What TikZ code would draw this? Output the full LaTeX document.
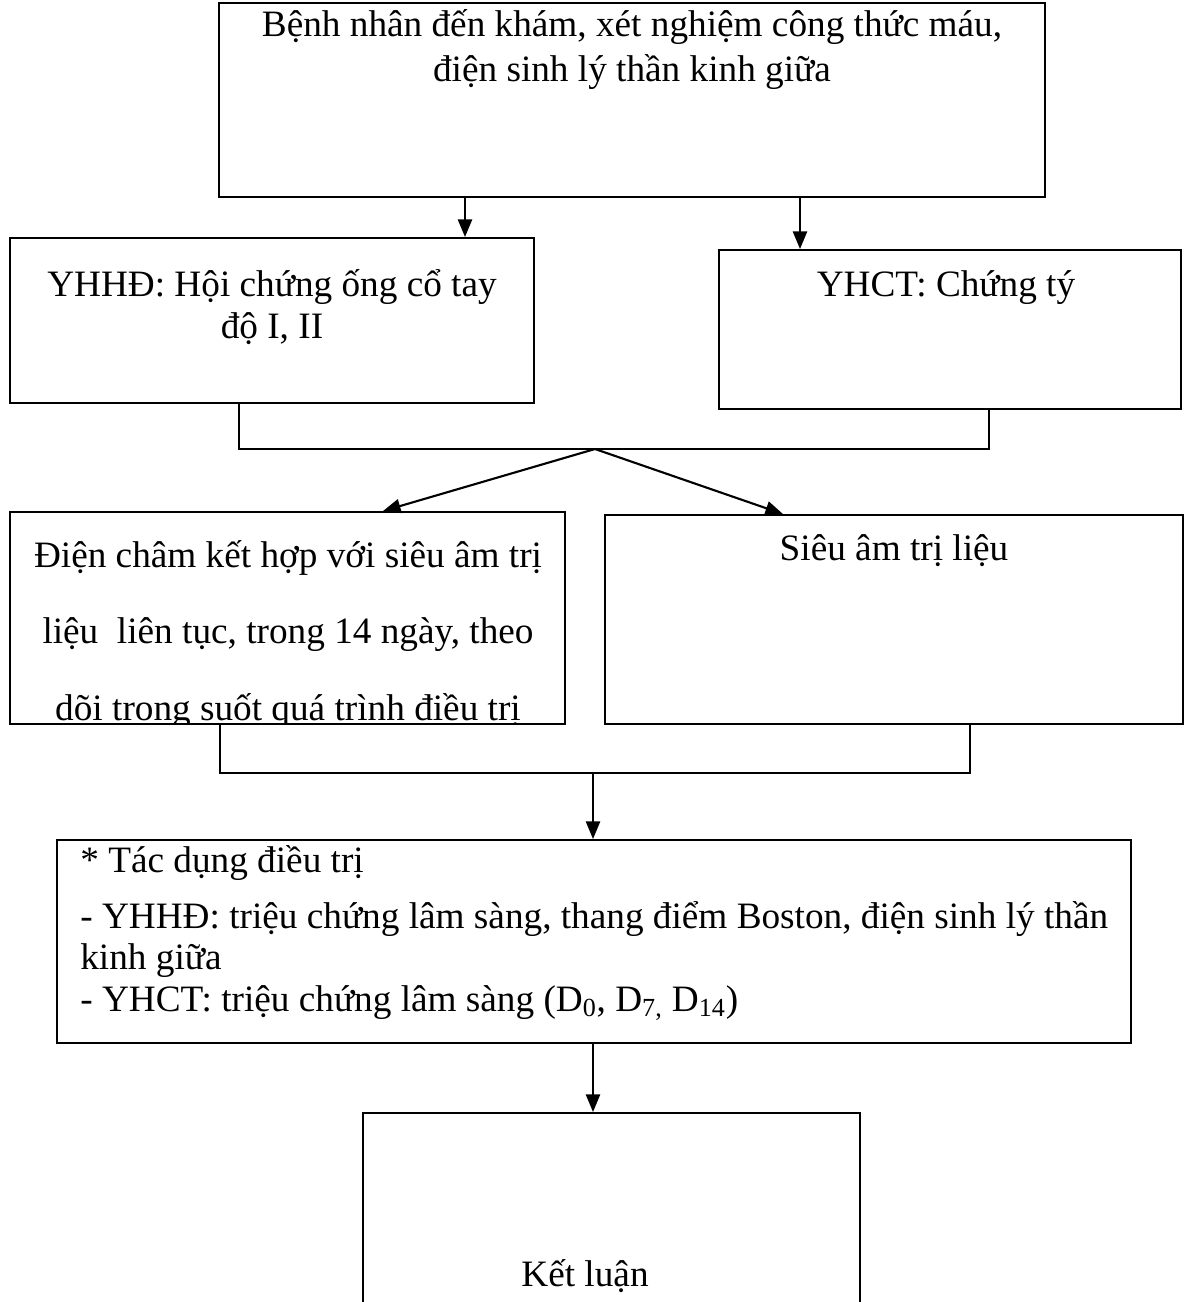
\documentclass[tikz,border=0pt]{standalone}
\usepackage{fontspec}
\setmainfont{Liberation Serif}
\usetikzlibrary{arrows.meta, positioning, fit, calc}

\newcommand{\boxfont}{\fontsize{21.2}{24.5}\selectfont}
\newcommand{\loosefont}{\fontsize{21.2}{43.4}\selectfont}
\newcommand{\tightfont}{\fontsize{21.2}{23.6}\selectfont}

\begin{document}
\begin{tikzpicture}[
    x=0.02cm, y=-0.02cm,
    box/.style={rectangle, draw, line width=1.1pt, inner sep=0pt},
    boxtext/.style={anchor=base, align=center, inner sep=0pt, font=\boxfont},
    arrow/.style={-{Triangle[length=10pt, width=8pt]}, line width=1.2pt},
    link/.style={line width=1.1pt},
]
\useasboundingbox (0,0) rectangle (1185,1302);

% boxes (text anchored at the baseline of the last line)
\node[box, fit={(219,3) (1045,197)}] (start) {};
\node[boxtext] (starttext) at (632,81) {Bệnh nhân đến khám, xét nghiệm công thức máu,\\[1pt]điện sinh lý thần kinh giữa};

\node[box, fit={(10,238) (534,403)}] (yhhd) {};
\node[boxtext, font=\tightfont] (yhhdtext) at (272,338) {YHHĐ: Hội chứng ống cổ tay\\độ I, II};

\node[box, fit={(719,250) (1181,409)}] (yhct) {};
\node[boxtext] (yhcttext) at (946,296) {YHCT: Chứng tý};

\node[box, fit={(10,512) (565,724)}] (combo) {};
\begin{scope}
    \clip (combo.north west) rectangle (combo.south east);
    \node[boxtext, font=\loosefont] (combotext) at (288,720) {Điện châm kết hợp với siêu âm trị\\liệu\ \ liên tục, trong 14 ngày, theo\\dõi trong suốt quá trình điều trị};
\end{scope}

\node[box, fit={(605,515) (1183,724)}] (usound) {};
\node[boxtext] (usoundtext) at (894,560) {Siêu âm trị liệu};

\node[box, fit={(57,840) (1131,1043)}] (effect) {};
\node[boxtext, font=\tightfont, anchor=base west, align=left] (effecttext) at (80,1011) {* Tác dụng điều trị\\[8pt]- YHHĐ: triệu chứng lâm sàng, thang điểm Boston, điện sinh lý thần\\kinh giữa\\- YHCT: triệu chứng lâm sàng (D\textsubscript{0}, D\textsubscript{7,} D\textsubscript{14})};

\node[box, fit={(363,1113) (860,1330)}] (result) {};
\node[boxtext] (resulttext) at (585,1286) {Kết luận};

% connectors
\draw[arrow] (start.south -| 465,0) -- (yhhd.north -| 465,0);
\draw[arrow] (start.south -| 800,0) -- (yhct.north -| 800,0);

\coordinate (join1) at (595,449);
\draw[link] (yhhd.south -| 239,0) |- (join1) -| (yhct.south -| 989,0);
\draw[arrow] (join1) -- (combo.north -| 383,0);
\draw[arrow] (join1) -- (usound.north -| 783,0);

\coordinate (join2) at (593,773);
\draw[link] (combo.south -| 220,0) |- (join2) -| (usound.south -| 970,0);
\draw[arrow] (join2) -- (effect.north -| join2);
\draw[arrow] (effect.south -| join2) -- (result.north -| join2);

\end{tikzpicture}
\end{document}
